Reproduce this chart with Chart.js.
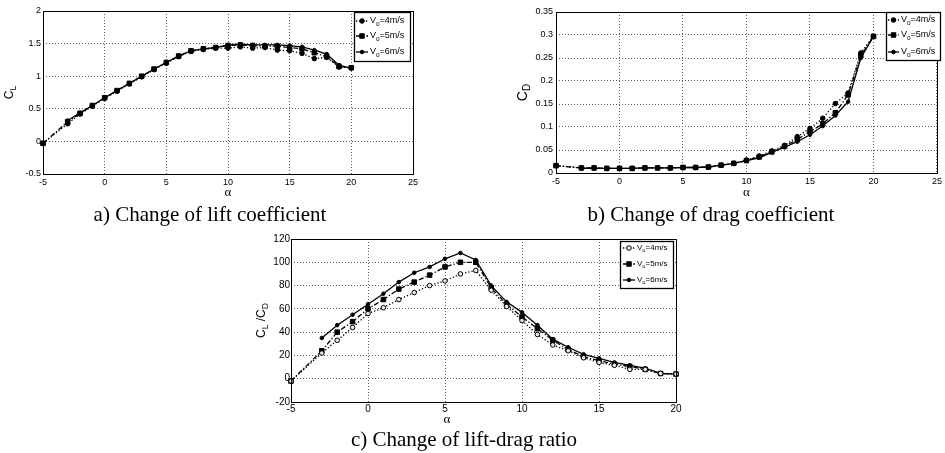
<!DOCTYPE html>
<html>
<head>
<meta charset="utf-8">
<script src="https://cdn.jsdelivr.net/npm/chart.js@4.4.1/dist/chart.umd.min.js"></script>
<style>
  html, body { margin: 0; padding: 0; background: #fff; }
  body { width: 945px; height: 453px; position: relative; overflow: hidden; }
  .pane { position: absolute; }
  .pane canvas { display: block; }
  .cap {
    position: absolute;
    font-family: "Liberation Serif", "Times New Roman", serif;
    font-size: 21px;
    line-height: 1;
    color: #000;
    white-space: nowrap;
    transform: translateX(-50%);
  }
</style>
</head>
<body>
<div class="pane" style="left:0;top:0;width:430px;height:200px"><canvas id="graficoLift" width="430" height="200"></canvas></div>
<div class="pane" style="left:470px;top:0;width:475px;height:200px"><canvas id="graficoDrag" width="475" height="200"></canvas></div>
<div class="pane" style="left:230px;top:200px;width:480px;height:253px"><canvas id="graficoRatio" width="480" height="253"></canvas></div>

<div class="cap" style="left:210px;top:204px">a) Change of lift coefficient</div>
<div class="cap" style="left:711px;top:204px">b) Change of drag coefficient</div>
<div class="cap" style="left:464px;top:429px">c) Change of lift-drag ratio</div>

<script>
// angle of attack (deg) and free-stream speeds
const alpha = [-5, -3, -2, -1, 0, 1, 2, 3, 4, 5, 6, 7, 8, 9, 10, 11, 12, 13, 14, 15, 16, 17, 18, 19, 20];
const speeds = ['4m/s', '5m/s', '6m/s'];

// a) lift coefficient
const liftV4 = [-0.03, 0.27, 0.42, 0.54, 0.66, 0.77, 0.88, 0.99, 1.10, 1.20, 1.30, 1.38, 1.41, 1.43, 1.43, 1.45, 1.43, 1.44, 1.40, 1.39, 1.35, 1.27, 1.29, 1.14, 1.13];
const liftV5 = [-0.03, 0.30, 0.43, 0.55, 0.67, 0.78, 0.89, 1.00, 1.11, 1.21, 1.31, 1.39, 1.42, 1.44, 1.47, 1.48, 1.47, 1.46, 1.46, 1.44, 1.42, 1.36, 1.30, 1.15, 1.13];
const liftV6 = [null, 0.32, 0.44, 0.55, 0.67, 0.78, 0.89, 1.00, 1.11, 1.21, 1.31, 1.39, 1.42, 1.44, 1.48, 1.49, 1.48, 1.48, 1.48, 1.47, 1.45, 1.40, 1.34, 1.17, 1.12];

// b) drag coefficient
const dragV4 = [0.016, 0.011, 0.011, 0.010, 0.010, 0.010, 0.011, 0.011, 0.011, 0.012, 0.012, 0.013, 0.017, 0.021, 0.028, 0.037, 0.048, 0.060, 0.079, 0.097, 0.119, 0.151, 0.174, 0.261, 0.297];
const dragV5 = [0.016, 0.011, 0.011, 0.010, 0.010, 0.010, 0.011, 0.011, 0.011, 0.012, 0.012, 0.013, 0.017, 0.021, 0.027, 0.035, 0.046, 0.058, 0.073, 0.090, 0.107, 0.131, 0.170, 0.255, 0.297];
const dragV6 = [null, 0.010, 0.010, 0.010, 0.010, 0.010, 0.011, 0.011, 0.011, 0.012, 0.012, 0.013, 0.017, 0.021, 0.027, 0.033, 0.045, 0.056, 0.068, 0.083, 0.102, 0.125, 0.155, 0.250, 0.297];

// c) lift-drag ratio
const ratioV4 = [-2, 22, 33, 44, 56, 61, 68, 74, 80, 84, 90, 93, 76, 62, 50, 38, 29, 24, 18, 14, 11.5, 8, 8, 4.5, 4];
const ratioV5 = [-2, 24, 40, 49, 60, 68, 77, 83, 89, 96, 100, 100, 78, 64, 53, 43, 33, 25, 19, 15.5, 12.5, 10.5, 8, 4.5, 4];
const ratioV6 = [null, 35, 46, 55, 64, 73, 83, 91, 96, 103, 108, 102, 80, 66, 57, 46, 34, 27, 21, 17.5, 14, 11.5, 9, 4.5, 4];

// tick labels
const liftXTicks = [-5, 0, 5, 10, 15, 20, 25];
const liftYTicks = [-0.5, 0, 0.5, 1, 1.5, 2];
const dragXTicks = [-5, 0, 5, 10, 15, 20, 25];
const dragYTicks = [0, 0.05, 0.1, 0.15, 0.2, 0.25, 0.3, 0.35];
const ratioXTicks = [-5, 0, 5, 10, 15, 20];
const ratioYTicks = [-20, 0, 20, 40, 60, 80, 100, 120];

Chart.defaults.font.family = '"Liberation Sans", Arial, sans-serif';
Chart.defaults.color = '#000';

// MATLAB-like line styles: dotted + dots, dash-dot + squares, solid + small dots
const estilos = [
    { dash: [1.3, 2], point: 'circle', r: 2.3 },
    { dash: [5, 2, 1.3, 2], point: 'rect', r: 3.2 },
    { dash: [], point: 'circle', r: 1.8 }
];

const aPuntos = vals => alpha
    .map((a, i) => (vals[i] === null ? null : { x: a, y: vals[i] }))
    .filter(p => p !== null);

const crearSeries = (lista, hueco) => lista.map((vals, i) => ({
    label: 'Vo=' + speeds[i],
    data: aPuntos(vals),
    borderColor: '#000',
    borderWidth: 1.3,
    borderDash: estilos[i].dash,
    pointStyle: estilos[i].point,
    pointRadius: estilos[i].r,
    pointBackgroundColor: (hueco && i === 0) ? '#e6e6e6' : '#000',
    pointBorderColor: '#000',
    pointBorderWidth: 1,
    tension: 0,
    fill: false,
    clip: 6
}));

const ejes = (c) => {
    const grid = { color: '#5c5c5c', lineWidth: 1, drawTicks: false };
    const border = { display: false, dash: [1, 2] };
    const fuente = { family: '"Liberation Sans", Arial, sans-serif', size: c.fs };
    return {
        x: {
            type: 'linear', min: c.xTicks[0], max: c.xTicks[c.xTicks.length - 1],
            grid, border,
            afterBuildTicks: s => { s.ticks = c.xTicks.map(v => ({ value: v })); },
            afterFit: s => { s.height = c.xH; },
            ticks: { color: '#000', font: fuente, padding: c.xPad, maxRotation: 0, autoSkip: false, callback: v => String(v) }
        },
        y: {
            type: 'linear', min: c.yTicks[0], max: c.yTicks[c.yTicks.length - 1],
            grid, border,
            afterBuildTicks: s => { s.ticks = c.yTicks.map(v => ({ value: v })); },
            afterFit: s => { s.width = c.yW; },
            ticks: { color: '#000', font: fuente, padding: c.yPad, autoSkip: false, callback: v => String(v) }
        }
    };
};

// text with subscripts: parts = [[text, isSub], ...]
const textoSub = (ctx, parts, x, y, size, rot, align) => {
    const fam = '"Liberation Sans", Arial, sans-serif';
    const medir = ([t, sub]) => { ctx.font = `${sub ? size * 0.72 : size}px ${fam}`; return ctx.measureText(t).width; };
    const total = parts.reduce((s, p) => s + medir(p), 0);
    ctx.save();
    ctx.translate(x, y);
    ctx.rotate(rot);
    ctx.fillStyle = '#000';
    ctx.textAlign = 'left';
    ctx.textBaseline = 'middle';
    let cx = align === 'left' ? 0 : -total / 2;
    parts.forEach(p => {
        const w = medir(p);
        ctx.fillText(p[0], cx, p[1] ? size * 0.32 : 0);
        cx += w;
    });
    ctx.restore();
};

const marcador = (ctx, ds, x, y) => {
    ctx.fillStyle = ds.pointBackgroundColor;
    ctx.strokeStyle = '#000';
    ctx.lineWidth = 1;
    ctx.beginPath();
    if (ds.pointStyle === 'rect') {
        const s = ds.pointRadius * Math.SQRT1_2;
        ctx.rect(x - s, y - s, 2 * s, 2 * s);
    } else {
        ctx.arc(x, y, ds.pointRadius, 0, Math.PI * 2);
    }
    ctx.fill();
    ctx.stroke();
};

// box frame, axis titles and the boxed legend
const marcoMatlab = {
    id: 'marcoMatlab',
    afterDatasetsDraw(chart, args, o) {
        const { ctx, chartArea: a } = chart;
        ctx.save();
        ctx.strokeStyle = '#000';
        ctx.lineWidth = 1;
        ctx.setLineDash([]);
        ctx.strokeRect(Math.round(a.left) + 0.5, Math.round(a.top) + 0.5,
            Math.round(a.right - a.left), Math.round(a.bottom - a.top));

        textoSub(ctx, o.yTitle, o.yTitleX, (a.top + a.bottom) / 2, o.yTitleSize, -Math.PI / 2, 'center');

        ctx.font = `${o.xTitleSize}px "Liberation Serif", serif`;
        ctx.fillStyle = '#000';
        ctx.textAlign = 'center';
        ctx.textBaseline = 'middle';
        ctx.fillText('α', a.left + o.xTitleFrac * (a.right - a.left), o.xTitleY);

        const L = o.legend;
        ctx.fillStyle = '#fff';
        ctx.fillRect(L.x, L.y, L.w, L.h);
        ctx.strokeStyle = '#000';
        ctx.lineWidth = 1.3;
        ctx.strokeRect(L.x + 0.5, L.y + 0.5, L.w, L.h);
        chart.data.datasets.forEach((ds, i) => {
            const y = L.rows[i];
            ctx.strokeStyle = '#000';
            ctx.lineWidth = ds.borderWidth;
            ctx.setLineDash(ds.borderDash);
            ctx.beginPath();
            ctx.moveTo(L.sx0, y);
            ctx.lineTo(L.sx1, y);
            ctx.stroke();
            ctx.setLineDash([]);
            marcador(ctx, ds, (L.sx0 + L.sx1) / 2, y);
            textoSub(ctx, [['V', 0], ['o', 1], ['=' + speeds[i], 0]], L.tx, y, L.fs, 0, 'left');
        });
        ctx.restore();
    }
};

const crearGrafico = (id, series, c) => new Chart(document.getElementById(id).getContext('2d'), {
    type: 'line',
    data: { datasets: series },
    options: {
        responsive: false,
        animation: false,
        devicePixelRatio: 1,
        layout: { padding: { left: 0, top: c.padTop, right: c.padRight, bottom: 0 } },
        scales: ejes(c),
        plugins: {
            legend: { display: false },
            tooltip: { enabled: false },
            marcoMatlab: c.marco
        }
    },
    plugins: [marcoMatlab]
});

crearGrafico('graficoLift', crearSeries([liftV4, liftV5, liftV6], false), {
    xTicks: liftXTicks, yTicks: liftYTicks, fs: 9, xH: 26, yW: 43, xPad: 3, yPad: 2, padTop: 11, padRight: 17,
    marco: {
        yTitle: [['C', 0], ['L', 1]], yTitleX: 10, yTitleSize: 12,
        xTitleY: 193, xTitleFrac: 0.5, xTitleSize: 13,
        legend: { x: 354, y: 12, w: 56, h: 49, rows: [21, 36, 52], sx0: 356, sx1: 368, tx: 370, fs: 9 }
    }
});

crearGrafico('graficoDrag', crearSeries([dragV4, dragV5, dragV6], false), {
    xTicks: dragXTicks, yTicks: dragYTicks, fs: 9, xH: 27, yW: 86, xPad: 3, yPad: 3, padTop: 12, padRight: 5,
    marco: {
        yTitle: [['C', 0], ['D', 1]], yTitleX: 53, yTitleSize: 14,
        xTitleY: 193, xTitleFrac: 0.5, xTitleSize: 13,
        legend: { x: 416, y: 12, w: 54, h: 48, rows: [20, 35, 52], sx0: 418, sx1: 429, tx: 431, fs: 9 }
    }
});

crearGrafico('graficoRatio', crearSeries([ratioV4, ratioV5, ratioV6], true), {
    xTicks: ratioXTicks, yTicks: ratioYTicks, fs: 10, xH: 51, yW: 61, xPad: 1, yPad: 1, padTop: 39, padRight: 34,
    marco: {
        yTitle: [['C', 0], ['L', 1], [' /C', 0], ['D', 1]], yTitleX: 32, yTitleSize: 12,
        xTitleY: 220, xTitleFrac: 0.405, xTitleSize: 13,
        legend: { x: 390, y: 41, w: 53, h: 47, rows: [48, 64, 80], sx0: 393, sx1: 405, tx: 407, fs: 8 }
    }
});
</script>
</body>
</html>
